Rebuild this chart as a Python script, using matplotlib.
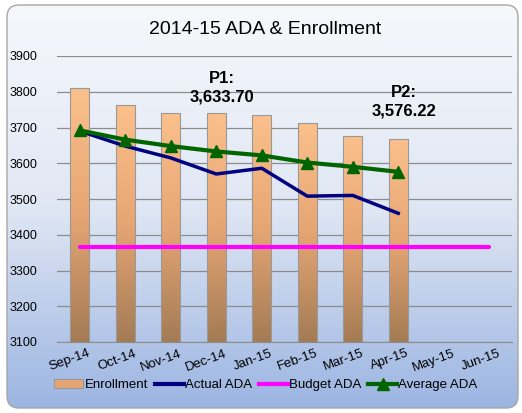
import numpy as np
import matplotlib
matplotlib.use('Agg')
import matplotlib.pyplot as plt
from matplotlib.patches import FancyBboxPatch, Patch
from matplotlib.lines import Line2D
from matplotlib.colors import LinearSegmentedColormap
import matplotlib.transforms as mtransforms

plt.rcParams['font.family'] = ['Liberation Sans', 'DejaVu Sans']

# data
months = ['Sep-14', 'Oct-14', 'Nov-14', 'Dec-14', 'Jan-15', 'Feb-15',
          'Mar-15', 'Apr-15', 'May-15', 'Jun-15']
enrollment = [3810, 3762, 3741, 3741, 3735, 3713, 3676, 3668]
actual_ada = [3690, 3648, 3615, 3570, 3586, 3508, 3510, 3460]
average_ada = [3692, 3666, 3648, 3633, 3622, 3602, 3590, 3576]
budget_ada = [3365] * 10
annotations = [('P1:\n3,633.70', 3.12, 3810), ('P2:\n3,576.22', 7.12, 3772)]

fig = plt.figure(figsize=(5.22, 4.13), dpi=100)

# background panel with gradient and rounded border
bg = fig.add_axes([0, 0, 1, 1])
bg.set_xlim(0, 522)
bg.set_ylim(413, 0)
bg.axis('off')
bg_cmap = LinearSegmentedColormap.from_list('bg', ['#f6f8fc', '#e0e7f4', '#9cb5e2'])
grad = np.linspace(0, 1, 256).reshape(-1, 1)
img = bg.imshow(grad, cmap=bg_cmap, extent=[7, 518, 408, 5], aspect='auto', zorder=0)
frame = FancyBboxPatch((7, 5), 511, 403, boxstyle='round,pad=0,rounding_size=12',
                       facecolor='none', edgecolor='#a6a6a6', lw=1.0, zorder=1)
bg.add_patch(frame)
img.set_clip_path(frame)

ax = fig.add_axes([57 / 522, 1 - 342 / 413, 455 / 522, 286 / 413])
ax.patch.set_alpha(0)
x = np.arange(len(months))

bars = ax.bar(x[:len(enrollment)], enrollment, width=0.42, bottom=0,
              color='none', edgecolor='#999999', lw=0.8, zorder=2)
bar_cmap = LinearSegmentedColormap.from_list('bar', ['#fbc08c', '#e6a674', '#a37b55'])
for b in bars:
    x0, w, h = b.get_x(), b.get_width(), b.get_height()
    im = ax.imshow(grad, cmap=bar_cmap, extent=[x0, x0 + w, 3100, h],
                   aspect='auto', zorder=1.5)
    im.set_clip_path(b)

ax.plot(x, budget_ada, color='#ff00ff', lw=3, zorder=3, solid_capstyle='round')
ax.plot(x[:len(actual_ada)], actual_ada, color='#000080', lw=2.5, zorder=4)
ax.plot(x[:len(average_ada)], average_ada, color='#006400', lw=3, marker='^',
        markersize=9, zorder=5)

for txt, xi, yi in annotations:
    ax.text(xi, yi, txt, ha='center', va='center', fontsize=12,
            fontweight='bold', linespacing=1.3)

ax.set_xlim(-0.5, len(months) - 0.5)
ax.set_ylim(3100, 3900)
ax.set_yticks(range(3100, 4000, 100))
ax.yaxis.grid(True, color='#8c8c8c', lw=0.9)
ax.set_axisbelow(True)
for s in ax.spines.values():
    s.set_visible(False)
ax.spines['bottom'].set_visible(True)
ax.spines['bottom'].set_color('#8c8c8c')
ax.tick_params(length=0, labelsize=9)
ax.tick_params(axis='y', pad=14)
ax.tick_params(axis='x', pad=4)
ax.set_xticks(x)
ax.set_xticklabels(months, rotation=20, ha='right', rotation_mode='anchor', fontsize=9.5)
offset = mtransforms.ScaledTranslation(6 / 72, 0, fig.dpi_scale_trans)
for lab in ax.get_xticklabels():
    lab.set_transform(lab.get_transform() + offset)

fig.text(265 / 522, 1 - 29 / 413, '2014-15 ADA & Enrollment',
         ha='center', va='center', fontsize=14)

handles = [Patch(facecolor='#e6a674', edgecolor='#999999', lw=0.8),
           Line2D([], [], color='#000080', lw=3),
           Line2D([], [], color='#ff00ff', lw=3),
           Line2D([], [], color='#006400', lw=3, marker='^', markersize=8)]
labels = ['Enrollment', 'Actual ADA', 'Budget ADA', 'Average ADA']
fig.legend(handles, labels, loc='center', bbox_to_anchor=(266 / 522, 1 - 385 / 413),
           ncol=4, frameon=False, fontsize=9.5, handlelength=2.2,
           handletextpad=0.1, columnspacing=0.5)

fig.savefig('out.png', dpi=100)
